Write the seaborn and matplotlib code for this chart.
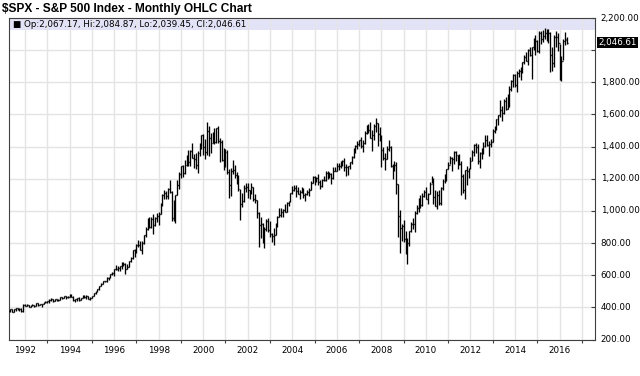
import matplotlib
matplotlib.use("Agg")
import matplotlib.pyplot as plt
import matplotlib.transforms as mtransforms
from matplotlib.patches import Rectangle
import numpy as np
import pandas as pd
import seaborn as sns

TITLE = "\\$SPX - S&P 500 Index - Monthly OHLC Chart"
FIRST_MONTH = "1991-05"
FIRST_OPEN = 375.35
LAST_BAR = {"Op": 2067.17, "Hi": 2084.87, "Lo": 2039.45, "Cl": 2046.61}

# monthly closes, May 1991 .. May 2016 (last month partial)
CLOSE = [
    389.83, 371.16, 387.81, 395.43, 387.86, 392.45, 375.22, 417.09,  # 1991
    408.79, 412.70, 403.69, 414.95, 415.35, 408.14, 424.21, 414.03, 417.80, 418.68, 431.35, 435.71,
    438.78, 443.38, 451.67, 440.19, 450.19, 450.53, 448.13, 463.56, 458.93, 467.83, 461.79, 466.45,
    481.61, 467.14, 445.77, 450.91, 456.50, 444.27, 458.26, 475.49, 462.69, 472.35, 453.69, 459.27,
    470.42, 487.39, 500.71, 514.71, 533.40, 544.75, 562.06, 561.88, 584.41, 581.50, 605.37, 615.93,
    636.02, 640.43, 645.50, 654.17, 669.12, 670.63, 639.95, 651.99, 687.33, 705.27, 757.02, 740.74,
    786.16, 790.82, 757.12, 801.34, 848.28, 885.14, 954.29, 899.47, 947.28, 914.62, 955.40, 970.43,
    980.28, 1049.34, 1101.75, 1111.75, 1090.82, 1133.84, 1120.67, 957.28, 1017.01, 1098.67, 1163.63, 1229.23,
    1279.64, 1238.33, 1286.37, 1335.18, 1301.84, 1372.71, 1328.72, 1320.41, 1282.71, 1362.93, 1388.91, 1469.25,
    1394.46, 1366.42, 1498.58, 1452.43, 1420.60, 1454.60, 1430.83, 1517.68, 1436.51, 1429.40, 1315.23, 1320.28,
    1366.01, 1239.94, 1160.33, 1249.46, 1255.82, 1224.42, 1211.23, 1133.58, 1040.94, 1059.78, 1139.45, 1148.08,
    1130.20, 1106.73, 1147.39, 1076.92, 1067.14, 989.82, 911.62, 916.07, 815.28, 885.76, 936.31, 879.82,
    855.70, 841.15, 848.18, 916.92, 963.59, 974.50, 990.31, 1008.01, 995.97, 1050.71, 1058.20, 1111.92,
    1131.13, 1144.94, 1126.21, 1107.30, 1120.68, 1140.84, 1101.72, 1104.24, 1114.58, 1130.20, 1173.82, 1211.92,
    1181.27, 1203.60, 1180.59, 1156.85, 1191.50, 1191.33, 1234.18, 1220.33, 1228.81, 1207.01, 1249.48, 1248.29,
    1280.08, 1280.66, 1294.87, 1310.61, 1270.09, 1270.20, 1276.66, 1303.82, 1335.85, 1377.94, 1400.63, 1418.30,
    1438.24, 1406.82, 1420.86, 1482.37, 1530.62, 1503.35, 1455.27, 1473.99, 1526.75, 1549.38, 1481.14, 1468.36,
    1378.55, 1330.63, 1322.70, 1385.59, 1400.38, 1280.00, 1267.38, 1282.83, 1166.36, 968.75, 896.24, 903.25,
    825.88, 735.09, 797.87, 872.81, 919.14, 919.32, 987.48, 1020.62, 1057.08, 1036.19, 1095.63, 1115.10,
    1073.87, 1104.49, 1169.43, 1186.69, 1089.41, 1030.71, 1101.60, 1049.33, 1141.20, 1183.26, 1180.55, 1257.64,
    1286.12, 1327.22, 1325.83, 1363.61, 1345.20, 1320.64, 1292.28, 1218.89, 1131.42, 1253.30, 1246.96, 1257.60,
    1312.41, 1365.68, 1408.47, 1397.91, 1310.33, 1362.16, 1379.32, 1406.58, 1440.67, 1412.16, 1416.18, 1426.19,
    1498.11, 1514.68, 1569.19, 1597.57, 1630.74, 1606.28, 1685.73, 1632.97, 1681.55, 1756.54, 1805.81, 1848.36,
    1782.59, 1859.45, 1872.34, 1883.95, 1923.57, 1960.23, 1930.67, 2003.37, 1972.29, 2018.05, 2067.56, 2058.90,
    1994.99, 2104.50, 2067.89, 2085.51, 2107.39, 2063.11, 2103.84, 1972.18, 1920.03, 2079.36, 2080.41, 2043.94,
    1940.24, 1932.23, 2059.74, 2065.30, 2046.61,  # 2016
]

HIGH = [
    391.3, 391.3, 391.1, 397.4, 395.9, 395.4, 399.0, 419.3,  # 1991
    420.8, 418.3, 413.7, 417.0, 420.9, 417.5, 425.1, 425.1, 422.9, 419.8, 431.6, 441.3,
    442.5, 450.2, 456.7, 452.0, 453.5, 453.0, 450.5, 463.6, 463.6, 470.0, 468.6, 471.3,
    482.9, 482.9, 468.5, 453.1, 458.8, 462.4, 459.3, 476.7, 476.0, 474.0, 473.5, 463.8,
    472.8, 489.2, 503.2, 515.3, 535.0, 551.1, 563.8, 565.5, 586.5, 587.4, 608.0, 622.9,
    636.2, 664.6, 656.0, 656.9, 680.3, 680.3, 675.9, 670.0, 690.0, 714.1, 758.0, 761.8,
    794.7, 817.4, 814.9, 812.9, 851.8, 898.7, 957.7, 961.0, 960.6, 983.0, 961.8, 986.3,
    992.7, 1050.0, 1105.7, 1130.5, 1122.1, 1141.9, 1190.6, 1121.0, 1066.1, 1100.7, 1193.0, 1244.9,
    1280.0, 1284.0, 1316.2, 1347.8, 1375.9, 1375.8, 1420.3, 1352.0, 1361.0, 1373.9, 1424.8, 1473.1,
    1478.0, 1444.6, 1552.9, 1527.2, 1481.5, 1488.9, 1517.3, 1518.5, 1530.1, 1454.8, 1438.5, 1389.9,
    1383.4, 1376.4, 1263.5, 1269.3, 1315.9, 1286.6, 1239.8, 1226.3, 1134.0, 1110.6, 1163.4, 1173.6,
    1176.6, 1130.2, 1173.0, 1147.8, 1106.6, 1070.7, 994.5, 965.0, 924.0, 900.1, 951.0, 954.3,
    935.0, 864.6, 895.9, 924.2, 965.4, 1015.3, 1015.4, 1011.0, 1040.3, 1053.8, 1063.4, 1112.6,
    1155.4, 1159.0, 1163.2, 1150.6, 1127.7, 1146.3, 1140.8, 1109.7, 1131.0, 1142.1, 1188.5, 1217.9,
    1217.8, 1212.4, 1229.1, 1191.9, 1199.6, 1219.6, 1245.2, 1245.9, 1243.1, 1233.3, 1270.6, 1275.8,
    1294.9, 1297.6, 1310.9, 1318.2, 1326.7, 1290.7, 1280.4, 1306.7, 1340.3, 1389.5, 1407.9, 1431.8,
    1441.6, 1461.6, 1438.9, 1498.0, 1535.6, 1540.6, 1555.9, 1503.9, 1538.7, 1576.1, 1545.1, 1523.6,
    1471.8, 1396.0, 1359.7, 1404.6, 1440.2, 1404.1, 1292.2, 1313.2, 1303.0, 1167.0, 1007.5, 918.9,
    943.9, 875.0, 833.0, 877.6, 930.2, 956.2, 996.7, 1039.5, 1080.2, 1101.4, 1111.1, 1130.4,
    1150.5, 1112.4, 1180.2, 1219.8, 1206.0, 1131.2, 1121.0, 1129.2, 1148.9, 1196.1, 1227.1, 1262.6,
    1302.7, 1344.1, 1332.3, 1370.6, 1370.6, 1345.2, 1356.5, 1307.4, 1229.3, 1256.5, 1277.6, 1269.4,
    1333.5, 1378.0, 1419.2, 1422.4, 1415.3, 1363.5, 1391.7, 1426.7, 1474.5, 1471.0, 1434.3, 1448.0,
    1509.9, 1530.9, 1570.3, 1597.6, 1687.2, 1654.2, 1698.8, 1709.7, 1729.9, 1775.2, 1813.6, 1849.4,
    1850.8, 1867.9, 1884.0, 1897.3, 1924.0, 1968.2, 1991.4, 2005.0, 2019.3, 2018.2, 2075.8, 2093.6,
    2064.4, 2119.6, 2117.5, 2125.9, 2134.7, 2130.0, 2132.8, 2112.7, 2021.0, 2094.3, 2116.5, 2104.3,
    2038.2, 1963.0, 2072.2, 2111.1, 2084.87,  # 2016
]

LOW = [
    371.4, 370.3, 371.2, 376.1, 383.6, 375.6, 371.4, 372.2,  # 1991
    406.8, 407.6, 400.3, 400.0, 410.5, 401.3, 405.5, 410.0, 412.7, 402.7, 417.8, 427.2,
    427.9, 426.9, 441.3, 433.5, 437.0, 441.5, 441.4, 447.0, 452.6, 456.4, 454.4, 461.0,
    464.0, 464.3, 436.9, 435.9, 441.4, 441.6, 443.7, 456.7, 459.2, 454.7, 449.0, 445.6,
    457.2, 469.3, 483.0, 498.1, 510.9, 530.3, 544.6, 555.1, 559.1, 570.9, 580.4, 598.6,
    597.3, 631.4, 627.6, 624.2, 640.0, 659.9, 605.9, 639.0, 649.4, 683.1, 703.8, 714.6,
    737.0, 773.4, 756.1, 733.5, 793.2, 837.0, 879.0, 896.0, 896.7, 855.3, 905.6, 929.7,
    912.8, 980.3, 1032.1, 1076.7, 1074.4, 1074.7, 1114.3, 940.0, 939.9, 923.3, 1098.7, 1136.9,
    1205.5, 1211.7, 1226.6, 1281.7, 1277.4, 1278.3, 1327.7, 1268.4, 1263.4, 1233.7, 1343.3, 1387.4,
    1350.1, 1325.1, 1346.6, 1339.4, 1361.1, 1420.6, 1413.9, 1422.0, 1419.4, 1305.8, 1313.5, 1254.1,
    1274.6, 1228.3, 1081.2, 1091.9, 1232.0, 1203.0, 1165.5, 1124.9, 944.8, 1026.8, 1054.3, 1114.5,
    1081.7, 1074.4, 1106.7, 1063.5, 1048.9, 952.9, 775.7, 833.4, 800.2, 768.6, 872.8, 871.8,
    840.3, 806.3, 788.9, 847.9, 902.8, 963.6, 962.1, 960.8, 990.4, 996.0, 1031.2, 1053.4,
    1105.1, 1124.4, 1087.2, 1105.2, 1076.3, 1113.3, 1078.8, 1060.7, 1101.3, 1090.2, 1127.6, 1173.8,
    1163.8, 1180.3, 1163.7, 1136.2, 1146.2, 1188.3, 1183.6, 1201.1, 1205.4, 1168.2, 1201.1, 1246.6,
    1245.7, 1253.6, 1268.4, 1280.7, 1245.3, 1219.3, 1224.5, 1261.3, 1290.9, 1327.1, 1361.0, 1385.9,
    1404.0, 1389.4, 1364.0, 1416.4, 1476.7, 1484.2, 1454.3, 1370.6, 1439.3, 1489.6, 1406.1, 1435.7,
    1270.1, 1316.8, 1257.0, 1324.4, 1373.1, 1272.0, 1200.4, 1247.5, 1106.4, 839.8, 741.0, 815.7,
    804.3, 734.5, 666.8, 783.3, 866.1, 888.9, 869.3, 978.5, 992.0, 1020.2, 1029.4, 1085.9,
    1071.6, 1044.5, 1105.4, 1170.7, 1040.8, 1028.3, 1010.9, 1039.7, 1039.7, 1131.9, 1173.0, 1186.6,
    1257.6, 1289.1, 1249.1, 1294.7, 1311.8, 1258.1, 1282.9, 1101.5, 1114.2, 1074.8, 1158.7, 1202.4,
    1258.9, 1312.4, 1340.0, 1357.4, 1292.0, 1266.7, 1325.4, 1354.7, 1396.6, 1403.3, 1343.4, 1398.1,
    1426.2, 1485.0, 1501.5, 1536.0, 1581.3, 1560.3, 1604.6, 1627.5, 1633.4, 1646.5, 1746.2, 1768.0,
    1770.5, 1737.9, 1834.4, 1814.4, 1859.8, 1916.0, 1930.7, 1904.8, 1964.0, 1820.7, 2001.0, 1972.6,
    1988.1, 1980.9, 2039.7, 2048.4, 2067.9, 2056.2, 2044.0, 1867.0, 1871.9, 1893.7, 2019.4, 1993.3,
    1812.3, 1810.1, 1937.1, 2033.8, 2039.45,  # 2016
]

YTICKS = list(range(200, 2201, 200))
XLABEL_YEARS = list(range(1992, 2017, 2))
XLIM = (1991.28, 2017.59)
YLIM = (200, 2200)

BAND_COLOR = "#e3e3f7"
GRID_COLOR = "#e4e4e4"


def build_frame():
    months = pd.period_range(FIRST_MONTH, periods=len(CLOSE), freq="M")
    df = pd.DataFrame({"close": CLOSE, "high": HIGH, "low": LOW})
    df["x"] = months.year + (months.month - 1) / 12.0
    df["open"] = df["close"].shift(1)
    df.loc[0, "open"] = FIRST_OPEN
    df.loc[len(df) - 1, "open"] = LAST_BAR["Op"]
    return df


def main():
    sns.set_theme(style="white", rc={
        "axes.edgecolor": "#404040",
        "axes.linewidth": 0.8,
        "xtick.color": "#404040",
        "ytick.color": "#404040",
        "xtick.labelcolor": "black",
        "ytick.labelcolor": "black",
        "text.color": "black",
    })
    plt.rcParams["font.family"] = ["DejaVu Sans"]

    df = build_frame()

    fig = plt.figure(figsize=(6.4, 3.76), dpi=100)
    ax = fig.add_axes([9 / 640, 1 - 339.5 / 376, 586 / 640, 321.5 / 376])

    # header band at the top of the plot area
    ax.add_patch(Rectangle((0, 1 - 12 / 321.5), 1, 12 / 321.5, transform=ax.transAxes,
                           facecolor=BAND_COLOR, edgecolor="none", zorder=0.5))

    # OHLC bars
    w = 0.45 / 12
    lw = 0.95
    ax.vlines(df["x"], df["low"], df["high"], color="black", lw=lw, zorder=3)
    ax.hlines(df["open"], df["x"] - w, df["x"], color="black", lw=lw, zorder=3)
    ax.hlines(df["close"], df["x"], df["x"] + w, color="black", lw=lw, zorder=3)

    ax.set_xlim(*XLIM)
    ax.set_ylim(*YLIM)

    ax.set_xticks(XLABEL_YEARS)
    ax.set_xticklabels([str(y) for y in XLABEL_YEARS])
    ax.set_xticks(list(range(1992, 2018)), minor=True)
    ax.grid(True, axis="x", which="both", color=GRID_COLOR, lw=1.0, zorder=1)

    ax.set_yticks(YTICKS)
    ax.set_yticklabels(["" if v == 2000 else f"{v:,.2f}" for v in YTICKS])
    ax.grid(True, axis="y", which="major", color=GRID_COLOR, lw=1.0, zorder=1)
    ax.set_axisbelow(True)

    ax.yaxis.tick_right()
    ax.tick_params(axis="y", which="major", direction="in", length=3, width=0.8,
                   labelsize=6.3, pad=4, right=True, left=False)
    ax.tick_params(axis="x", which="major", direction="out", length=2.5, width=0.8,
                   labelsize=6.3, pad=2)
    ax.tick_params(axis="x", which="minor", direction="out", length=2.5, width=0.8,
                   bottom=True)
    for lab in ax.get_yticklabels():
        lab.set_verticalalignment("center")

    for side in ["top", "bottom", "left", "right"]:
        ax.spines[side].set_visible(True)

    # header text with last bar values
    head = "\u25a0 " + ", ".join(f"{k}:{v:,.2f}" for k, v in LAST_BAR.items())
    ax.text(4 / 586, 1 - 6 / 321.5, head, transform=ax.transAxes, fontsize=6.3,
            ha="left", va="center", color="black", zorder=5)

    # last price tag on the right axis
    trans = mtransforms.blended_transform_factory(ax.transAxes, ax.transData)
    ax.text(1 + 3.5 / 586, LAST_BAR["Cl"], f"{LAST_BAR['Cl']:,.2f}", transform=trans,
            fontsize=6.3, color="white", ha="left", va="center",
            bbox=dict(boxstyle="square,pad=0.12", fc="black", ec="none"), clip_on=False)

    fig.text(2 / 640, 1 - 9 / 376, TITLE, fontsize=8.6, fontweight="bold", color="black",
             family=["Liberation Sans", "DejaVu Sans"], ha="left", va="center")

    fig.savefig("out.png", dpi=100)
    plt.close(fig)


if __name__ == "__main__":
    main()
